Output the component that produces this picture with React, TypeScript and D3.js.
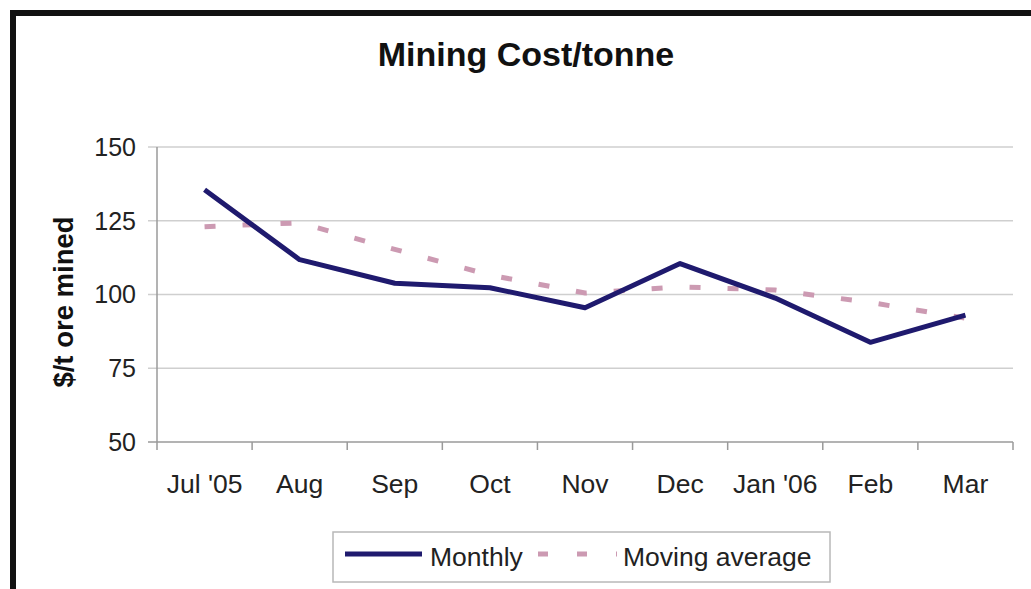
import React from 'react';
import * as d3 from 'd3';

const months = ["Jul '05", 'Aug', 'Sep', 'Oct', 'Nov', 'Dec', "Jan '06", 'Feb', 'Mar'];
const monthly = [135.5, 111.8, 103.8, 102.3, 95.5, 110.5, 98.8, 83.8, 93.0];
const movingAvg = [123, 124.3, 115.3, 106.6, 100.5, 102.6, 101.5, 97.3, 92];
const yTicks = [50, 75, 100, 125, 150];

const W = 1031;
const H = 589;
const FONT = '"Liberation Sans", Arial, sans-serif';

const App = () => {
  const left = 157;
  const right = 1013;
  const top = 147;
  const bottom = 442;

  const x = d3.scaleBand<string>().domain(months).range([left, right]).padding(0);
  const y = d3.scaleLinear().domain([50, 150]).range([bottom, top]);
  const cx = (m: string) => (x(m) as number) + x.bandwidth() / 2;

  const line = d3.line<number>()
    .x((_, i) => cx(months[i]))
    .y((d) => y(d));

  // band boundaries for x ticks
  const xTickPos = months.map((m) => x(m) as number).concat([right]);

  return (
    <div style={{ position: 'absolute', left: 0, top: 0 }}>
      <svg width={W} height={H} style={{ display: 'block', background: '#fff' }}>
        {/* frame */}
        <line x1={10} y1={13} x2={W} y2={13} stroke="#111" strokeWidth={6} />
        <line x1={13} y1={10} x2={13} y2={H} stroke="#111" strokeWidth={6} />

        <text x={526} y={66} textAnchor="middle" fontFamily={FONT} fontWeight="bold"
          fontSize={34} fill="#111">Mining Cost/tonne</text>

        {/* grid + y ticks */}
        {yTicks.map((t) => (
          <g key={t}>
            <line x1={left - 9} x2={right} y1={y(t)} y2={y(t)}
              stroke={t === 50 ? '#9a9a9a' : '#cfcfcf'} strokeWidth={1.5} />
            <text x={136} y={y(t)} dy="0.35em" textAnchor="end" fontFamily={FONT}
              fontSize={25} fill="#222">{t}</text>
          </g>
        ))}
        <line x1={left} x2={left} y1={top} y2={bottom} stroke="#9a9a9a" strokeWidth={1.5} />

        {/* x ticks + labels */}
        {xTickPos.map((p, i) => (
          <line key={i} x1={p} x2={p} y1={bottom} y2={bottom + 8} stroke="#9a9a9a" strokeWidth={1.5} />
        ))}
        {months.map((m) => (
          <text key={m} x={cx(m)} y={493} textAnchor="middle" fontFamily={FONT}
            fontSize={26.5} fill="#222">{m}</text>
        ))}

        <text transform={`translate(73,302) rotate(-90)`} textAnchor="middle" fontFamily={FONT}
          fontWeight="bold" fontSize={27.5} fill="#111">$/t ore mined</text>

        {/* series */}
        <path d={line(movingAvg) as string} fill="none" stroke="#cc9ab2" strokeWidth={5}
          strokeDasharray="11 27" />
        <path d={line(monthly) as string} fill="none" stroke="#1f1a6e" strokeWidth={5}
          strokeLinejoin="round" />

        {/* legend */}
        <rect x={333} y={532} width={497} height={50} fill="#fff" stroke="#b8b8b8" strokeWidth={1.5} />
        <line x1={345} x2={422} y1={554} y2={554} stroke="#1f1a6e" strokeWidth={5} />
        <text x={430} y={566} fontFamily={FONT} fontSize={26.5} fill="#222">Monthly</text>
        <line x1={538} x2={617} y1={554} y2={554} stroke="#cc9ab2" strokeWidth={5}
          strokeDasharray="10 29" />
        <text x={623} y={566} fontFamily={FONT} fontSize={26.5} fill="#222">Moving average</text>
      </svg>
    </div>
  );
};

export default App;
